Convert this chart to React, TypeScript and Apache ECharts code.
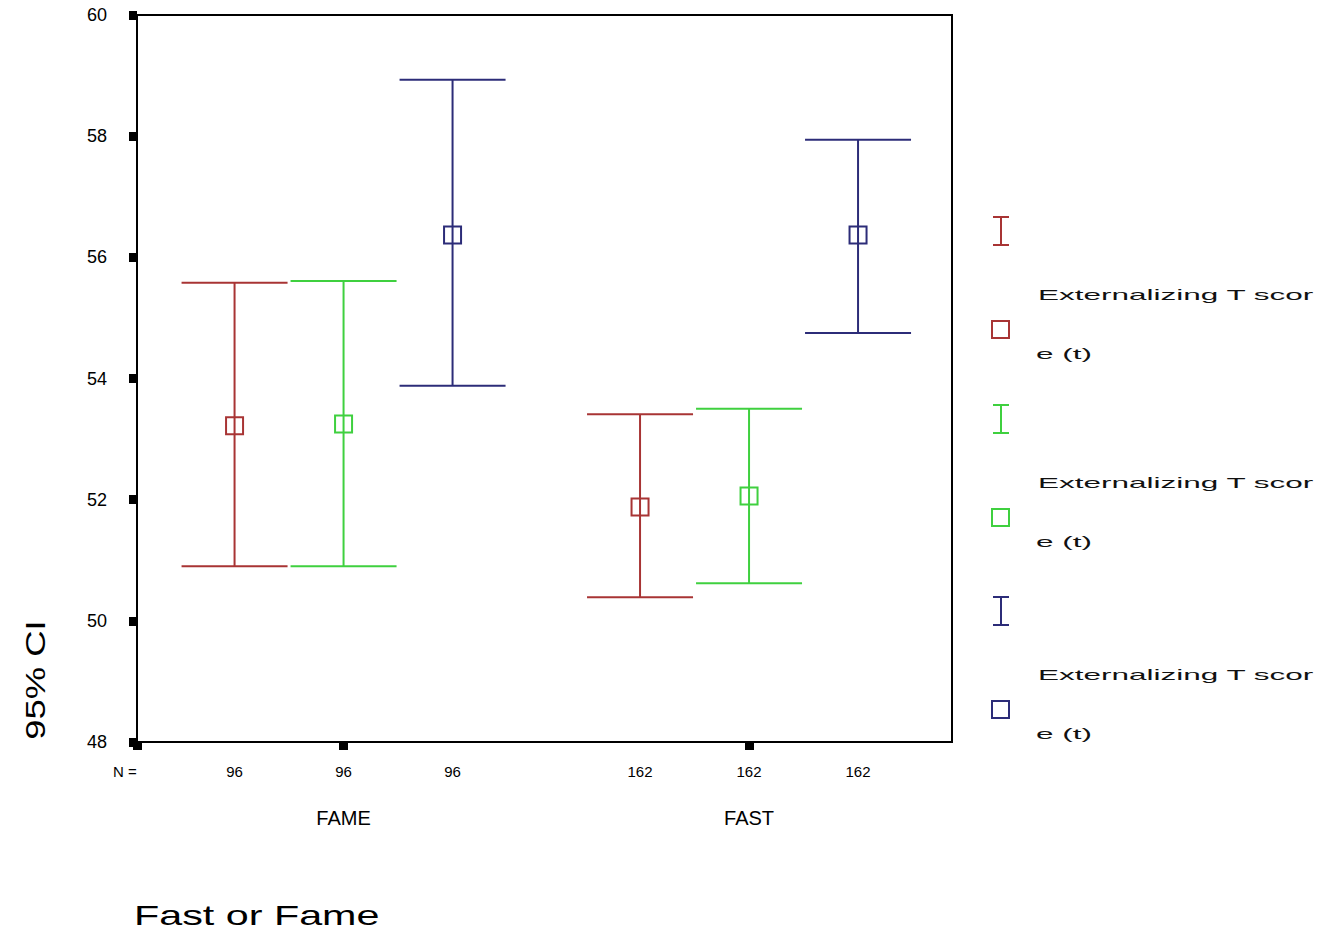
import React, { useEffect, useRef } from "react";
import * as echarts from "echarts";

// ---- data ----
const groups = ["FAME", "FAST"];
const groupN = [96, 162];
const groupCenters = [1.895, 5.615];
const slotOffsets = [-1, 0, 1];
const seriesNames = [
  "Externalizing T score (t) - 1",
  "Externalizing T score (t) - 2",
  "Externalizing T score (t) - 3",
];
const legendLine1 = "Externalizing T scor";
const legendLine2 = "e (t)";
const seriesColors = ["#a83434", "#3fd03f", "#2c2c78"];
// per series: [FAME, FAST]
const means = [
  [53.22, 51.88],
  [53.25, 52.06],
  [56.37, 56.37],
];
const lowers = [
  [50.9, 50.39],
  [50.9, 50.62],
  [53.88, 54.75],
];
const uppers = [
  [55.58, 53.41],
  [55.61, 53.5],
  [58.93, 57.94],
];
const yTicks = [48, 50, 52, 54, 56, 58, 60];
const xMax = 7.477;

const FONT = "'Liberation Sans', Arial, sans-serif";

export default function App() {
  const ref = useRef<HTMLDivElement>(null);
  useEffect(() => {
    if (!ref.current) return;
    const chart = echarts.init(ref.current, null, { renderer: "svg" });

    const slotPositions: number[] = [];
    const slotLabels: Record<string, string> = {};
    groupCenters.forEach((c, gi) => {
      slotOffsets.forEach((o) => {
        const p = +(c + o).toFixed(3);
        slotPositions.push(p);
        slotLabels[String(p)] = String(groupN[gi]);
      });
    });
    const groupLabelMap: Record<string, string> = {};
    groupCenters.forEach((c, gi) => (groupLabelMap[String(c)] = groups[gi]));

    const series: any[] = seriesNames.map((name, si) => ({
      type: "custom",
      name,
      xAxisIndex: 0,
      yAxisIndex: 0,
      data: groups.map((_, gi) => [
        +(groupCenters[gi] + slotOffsets[si]).toFixed(3),
        lowers[si][gi],
        uppers[si][gi],
        means[si][gi],
      ]),
      renderItem: (params: any, api: any) => {
        const x = api.value(0);
        const lo = api.coord([x, api.value(1)]);
        const hi = api.coord([x, api.value(2)]);
        const m = api.coord([x, api.value(3)]);
        const half = 53;
        const sq = 17;
        const style = { stroke: seriesColors[si], lineWidth: 2, fill: null };
        return {
          type: "group",
          children: [
            { type: "line", shape: { x1: hi[0], y1: hi[1], x2: lo[0], y2: lo[1] }, style },
            { type: "line", shape: { x1: hi[0] - half, y1: hi[1], x2: hi[0] + half, y2: hi[1] }, style },
            { type: "line", shape: { x1: lo[0] - half, y1: lo[1], x2: lo[0] + half, y2: lo[1] }, style },
            { type: "rect", shape: { x: m[0] - sq / 2, y: m[1] - sq / 2, width: sq, height: sq }, style },
          ],
        };
      },
    }));

    const legendGraphics: any[] = [];
    const legendTops = [217, 405, 597];
    seriesNames.forEach((_, si) => {
      const t = legendTops[si];
      const c = seriesColors[si];
      const st = { stroke: c, lineWidth: 2, fill: null };
      legendGraphics.push(
        { type: "line", shape: { x1: 1001, y1: t, x2: 1001, y2: t + 28 }, style: st },
        { type: "line", shape: { x1: 993, y1: t, x2: 1009, y2: t }, style: st },
        { type: "line", shape: { x1: 993, y1: t + 28, x2: 1009, y2: t + 28 }, style: st },
        { type: "rect", shape: { x: 992, y: t + 104, width: 17, height: 17 }, style: st },
        {
          type: "text",
          x: 1038,
          y: t + 78,
          scaleX: 2.1,
          style: { text: legendLine1, font: `15px ${FONT}`, fill: "#111", textVerticalAlign: "middle" },
        },
        {
          type: "text",
          x: 1036,
          y: t + 137,
          scaleX: 2.1,
          style: { text: legendLine2, font: `15px ${FONT}`, fill: "#111", textVerticalAlign: "middle" },
        }
      );
    });

    chart.setOption({
      animation: false,
      backgroundColor: "#ffffff",
      grid: {
        left: 137,
        top: 15,
        width: 815,
        height: 727,
        show: true,
        borderColor: "#000",
        borderWidth: 2,
        containLabel: false,
      },
      xAxis: [
        {
          type: "value",
          min: 0,
          max: xMax,
          position: "bottom",
          splitLine: { show: false },
          axisLine: { show: true, lineStyle: { color: "#000", width: 2 } },
          axisTick: {
            show: true,
            customValues: [0, ...groupCenters],
            length: 8,
            lineStyle: { color: "#000", width: 9 },
          },
          axisLabel: {
            show: true,
            customValues: slotPositions,
            formatter: (v: number) => slotLabels[String(+v.toFixed(3))] ?? "",
            margin: 22,
            fontSize: 15,
            fontFamily: FONT,
            color: "#000",
          },
        },
        {
          type: "value",
          min: 0,
          max: xMax,
          position: "bottom",
          splitLine: { show: false },
          axisLine: { show: false },
          axisTick: { show: false },
          axisLabel: {
            show: true,
            customValues: groupCenters,
            formatter: (v: number) => groupLabelMap[String(+v.toFixed(3))] ?? "",
            margin: 66,
            fontSize: 20,
            fontFamily: FONT,
            color: "#000",
          },
        },
      ],
      yAxis: {
        type: "value",
        min: 48,
        max: 60,
        interval: 2,
        splitLine: { show: false },
        axisLine: { show: true, lineStyle: { color: "#000", width: 2 } },
        axisTick: { show: true, length: 8, lineStyle: { color: "#000", width: 9 } },
        axisLabel: {
          margin: 30,
          fontSize: 18,
          fontFamily: FONT,
          color: "#000",
          formatter: (v: number) => (yTicks.includes(v) ? String(v) : ""),
        },
      },
      graphic: [
        {
          type: "text",
          x: 113,
          y: 771,
          style: { text: "N =", font: `15px ${FONT}`, fill: "#000", textVerticalAlign: "middle" },
        },
        {
          type: "text",
          x: 36,
          y: 680,
          rotation: Math.PI / 2,
          scaleX: 1.3,
          style: {
            text: "95% CI",
            font: `28px ${FONT}`,
            fill: "#000",
            textAlign: "center",
            textVerticalAlign: "middle",
          },
        },
        {
          type: "text",
          x: 134,
          y: 915,
          scaleX: 1.53,
          style: { text: "Fast or Fame", font: `27px ${FONT}`, fill: "#000", textVerticalAlign: "middle" },
        },
        ...legendGraphics,
      ],
      series,
    });
    return () => chart.dispose();
  }, []);
  return (
    <div
      ref={ref}
      style={{ position: "fixed", left: 0, top: 0, width: 1325, height: 930 }}
    />
  );
}
